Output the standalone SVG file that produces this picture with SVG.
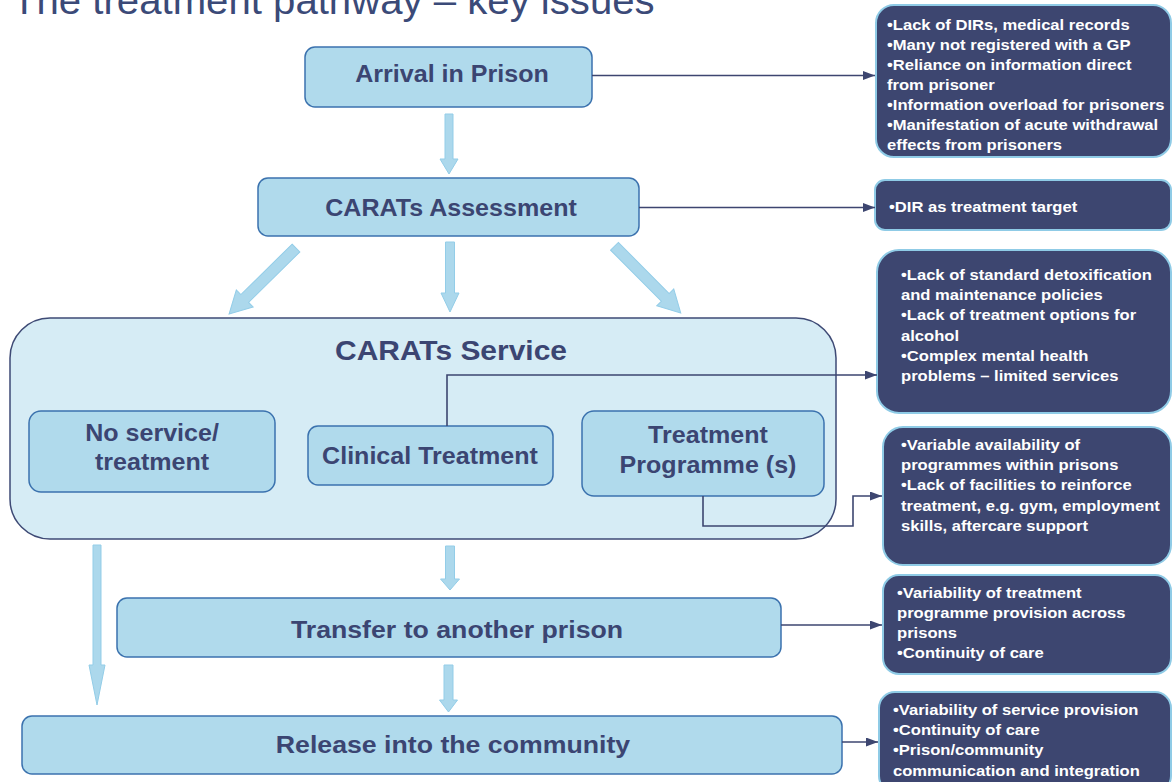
<svg xmlns="http://www.w3.org/2000/svg" width="1172" height="782" viewBox="0 0 1172 782">
  <defs>
    <style>
      .title { font-family: "Liberation Sans", Arial, sans-serif; font-size: 38px; fill: #3b4a78; }
      .step { fill: #b0daec; stroke: #3b72ae; stroke-width: 1.5; }
      .service { fill: #d6ecf5; stroke: #3e4a75; stroke-width: 1.5; }
      .issue { fill: #3d4670; stroke: #8fcbe6; stroke-width: 2; }
      .lbl { font-family: "Liberation Sans", Arial, sans-serif; font-weight: bold; font-size: 23px; fill: #3b4572; text-anchor: middle; }
      .lbl-lg { font-size: 24.5px; }
      .lbl-xl { font-size: 27.5px; }
      .note { font-family: "Liberation Sans", Arial, sans-serif; font-weight: bold; font-size: 15.5px; fill: #ffffff; }
      .flow { fill: #acd8ec; stroke: #93cde8; stroke-width: 1; }
      .link { fill: none; stroke: #3d4670; stroke-width: 1.6; marker-end: url(#head); }
    </style>
    <marker id="head" markerUnits="userSpaceOnUse" markerWidth="13" markerHeight="10" refX="12" refY="4.5" orient="auto">
      <path d="M0,0 L12,4.5 L0,9 Z" fill="#3d4670"/>
    </marker>
  </defs>

  <rect width="1172" height="782" fill="#ffffff"/>

  <!-- heading -->
  <g transform="translate(12,0) scale(1.057,1)">
    <text class="title" x="0" y="14">The treatment pathway – key issues</text>
  </g>

  <!-- block arrows between stages -->
  <g id="flow-arrows">
    <path class="flow" d="M445,114 H453 V159 H458 L449,174 L440,159 H445 Z"/>
    <path class="flow" d="M445.5,242 H454.5 V293 H459 L450,312 L441,293 H445.5 Z"/>
    <path class="flow" transform="translate(296,248) rotate(45.4)" d="M-5.5,0 H5.5 V72 H12 L0,94 L-12,72 H-5.5 Z"/>
    <path class="flow" transform="translate(614.5,246.3) rotate(-44.8)" d="M-5.5,0 H5.5 V72 H12 L0,94 L-12,72 H-5.5 Z"/>
    <path class="flow" d="M93,545 H101 V665 H105 L97,705 L89,665 H93 Z"/>
    <path class="flow" d="M445.5,546 H454.5 V579 H459.5 L450,590 L440.5,579 H445.5 Z"/>
    <path class="flow" d="M444,665 H453 V700 H457.5 L448.5,712 L439.5,700 H444 Z"/>
  </g>

  <!-- pathway stages -->
  <g id="arrival">
    <rect class="step" x="305" y="47" width="287" height="60" rx="10"/>
    <g transform="translate(452,0) scale(1.09,1)"><text class="lbl" x="0" y="82">Arrival in Prison</text></g>
  </g>

  <g id="assessment">
    <rect class="step" x="258" y="178" width="381" height="58" rx="10"/>
    <g transform="translate(451,0) scale(1.09,1)"><text class="lbl" x="0" y="216">CARATs Assessment</text></g>
  </g>

  <g id="service">
    <rect class="service" x="10" y="318" width="826" height="221" rx="40"/>
    <g transform="translate(451,0) scale(1.09,1)"><text class="lbl lbl-xl" x="0" y="360">CARATs Service</text></g>
  </g>

  <g id="no-service">
    <rect class="step" x="29" y="411" width="246" height="81" rx="12"/>
    <g transform="translate(152,0) scale(1.09,1)">
      <text class="lbl"><tspan x="0" y="441">No service/</tspan><tspan x="0" y="470">treatment</tspan></text>
    </g>
  </g>

  <g id="clinical">
    <rect class="step" x="308" y="426" width="245" height="59" rx="10"/>
    <g transform="translate(430,0) scale(1.09,1)"><text class="lbl" x="0" y="464">Clinical Treatment</text></g>
  </g>

  <g id="programme">
    <rect class="step" x="582" y="411" width="242" height="85" rx="12"/>
    <g transform="translate(708,0) scale(1.09,1)">
      <text class="lbl"><tspan x="0" y="443">Treatment</tspan><tspan x="0" y="473">Programme (s)</tspan></text>
    </g>
  </g>

  <g id="transfer">
    <rect class="step" x="117" y="598" width="664" height="59" rx="10"/>
    <g transform="translate(457,0) scale(1.09,1)"><text class="lbl lbl-lg" x="0" y="638">Transfer to another prison</text></g>
  </g>

  <g id="release">
    <rect class="step" x="22" y="716" width="820" height="58" rx="10"/>
    <g transform="translate(453,0) scale(1.09,1)"><text class="lbl lbl-lg" x="0" y="753">Release into the community</text></g>
  </g>

  <!-- issue call-outs -->
  <g id="issues-arrival">
    <rect class="issue" x="876" y="5" width="295" height="152" rx="18"/>
    <g transform="translate(887,0) scale(1.07,1)">
      <text class="note">
        <tspan x="0" y="30">•Lack of DIRs, medical records</tspan>
        <tspan x="0" y="50">•Many not registered with a GP</tspan>
        <tspan x="0" y="70">•Reliance on information direct</tspan>
        <tspan x="0" y="90">from prisoner</tspan>
        <tspan x="0" y="110">•Information overload for prisoners</tspan>
        <tspan x="0" y="130">•Manifestation of acute withdrawal</tspan>
        <tspan x="0" y="150">effects from prisoners</tspan>
      </text>
    </g>
  </g>

  <g id="issues-assessment">
    <rect class="issue" x="875" y="180" width="296" height="50" rx="10"/>
    <g transform="translate(889,0) scale(1.07,1)">
      <text class="note" x="0" y="212">•DIR as treatment target</text>
    </g>
  </g>

  <g id="issues-clinical">
    <rect class="issue" x="877" y="250" width="294" height="163" rx="22"/>
    <g transform="translate(901,0) scale(1.07,1)">
      <text class="note">
        <tspan x="0" y="280">•Lack of standard detoxification</tspan>
        <tspan x="0" y="300">and maintenance policies</tspan>
        <tspan x="0" y="320">•Lack of treatment options for</tspan>
        <tspan x="0" y="341">alcohol</tspan>
        <tspan x="0" y="361">•Complex mental health</tspan>
        <tspan x="0" y="381">problems – limited services</tspan>
      </text>
    </g>
  </g>

  <g id="issues-programme">
    <rect class="issue" x="883" y="427" width="288" height="138" rx="20"/>
    <g transform="translate(901,0) scale(1.07,1)">
      <text class="note">
        <tspan x="0" y="450">•Variable availability of</tspan>
        <tspan x="0" y="470">programmes within prisons</tspan>
        <tspan x="0" y="490">•Lack of facilities to reinforce</tspan>
        <tspan x="0" y="511">treatment, e.g. gym, employment</tspan>
        <tspan x="0" y="531">skills, aftercare support</tspan>
      </text>
    </g>
  </g>

  <g id="issues-transfer">
    <rect class="issue" x="883" y="575" width="288" height="99" rx="16"/>
    <g transform="translate(897,0) scale(1.07,1)">
      <text class="note">
        <tspan x="0" y="598">•Variability of treatment</tspan>
        <tspan x="0" y="618">programme provision across</tspan>
        <tspan x="0" y="638">prisons</tspan>
        <tspan x="0" y="658">•Continuity of care</tspan>
      </text>
    </g>
  </g>

  <g id="issues-release">
    <rect class="issue" x="879" y="692" width="292" height="100" rx="16"/>
    <g transform="translate(893,0) scale(1.07,1)">
      <text class="note">
        <tspan x="0" y="715">•Variability of service provision</tspan>
        <tspan x="0" y="735">•Continuity of care</tspan>
        <tspan x="0" y="755">•Prison/community</tspan>
        <tspan x="0" y="776">communication and integration</tspan>
      </text>
    </g>
  </g>

  <!-- connectors from stages to their issues -->
  <g id="connectors">
    <path class="link" d="M592,75.5 H875"/>
    <path class="link" d="M639,207.5 H875"/>
    <path class="link" d="M447,426 V375 H877"/>
    <path class="link" d="M703,496 V526 H853 V496 H882"/>
    <path class="link" d="M781,625 H882"/>
    <path class="link" d="M842,742 H878"/>
  </g>
</svg>
